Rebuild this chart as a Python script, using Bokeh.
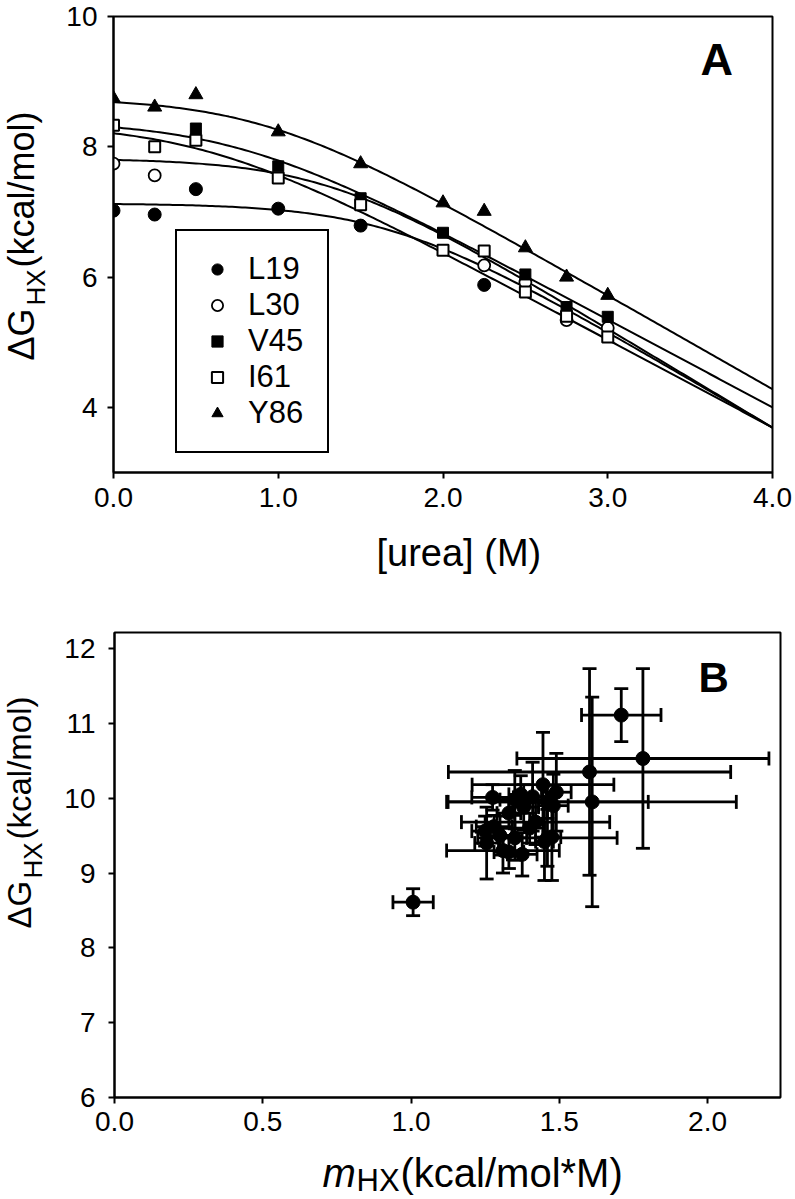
import numpy as np
from bokeh.plotting import figure
from bokeh.models import (ColumnDataSource, FixedTicker, Legend, LegendItem, Label,
                          Whisker, TeeHead, Range1d, Spacer)
from bokeh.layouts import column, row
from bokeh.core.properties import value
from bokeh.embed import file_html
from bokeh.resources import INLINE

FONT = "Liberation Sans"

# ---------------- Panel A data ----------------
residues = ["L19", "L30", "V45", "I61", "Y86"]
urea_L19 = [0.0, 0.25, 0.5, 1.0, 1.5, 2.25]
dG_L19 = [7.02, 6.96, 7.35, 7.05, 6.79, 5.88]
urea_L30 = [0.0, 0.25, 2.25, 2.5, 2.75, 3.0]
dG_L30 = [7.74, 7.56, 6.18, 5.92, 5.34, 5.22]
urea_V45 = [0.5, 1.0, 1.5, 2.0, 2.5, 2.75, 3.0]
dG_V45 = [8.28, 7.70, 7.21, 6.68, 6.04, 5.54, 5.39]
urea_I61 = [0.0, 0.25, 0.5, 1.0, 1.5, 2.0, 2.25, 2.5, 2.75, 3.0]
dG_I61 = [8.33, 8.00, 8.10, 7.52, 7.11, 6.41, 6.40, 5.77, 5.40, 5.08]
urea_Y86 = [0.0, 0.25, 0.5, 1.0, 1.5, 2.0, 2.25, 2.5, 2.75, 3.0]
dG_Y86 = [8.74, 8.61, 8.80, 8.23, 7.74, 7.14, 7.01, 6.45, 6.00, 5.72]

# fitted model parameters (local + global exchange), one per residue
fit_dG_loc = [7.13, 7.82, 8.40, 8.36, 8.75]
fit_dG_glob = [9.61, 9.77, 9.40, 9.09, 10.04]
fit_m = [1.48, 1.52, 1.35, 1.35, 1.44]
RT = 0.593

A_x_ticks = [0, 1, 2, 3, 4]
A_x_labels = ["0.0", "1.0", "2.0", "3.0", "4.0"]
A_y_ticks = [4, 6, 8, 10]
A_y_labels = ["4", "6", "8", "10"]

# ---------------- Panel B data ----------------
m_HX = [1.007, 1.709, 1.782, 1.602, 1.611,
        1.445, 1.49, 1.41, 1.35, 1.275, 1.46, 1.38, 1.48, 1.42, 1.25, 1.30,
        1.35, 1.46, 1.31, 1.255, 1.33, 1.375, 1.45, 1.475, 1.40, 1.33, 1.37, 1.28]
dG_HX = [8.61, 11.11, 10.53, 10.35, 9.95,
         10.18, 10.08, 10.02, 9.98, 10.01, 9.95, 9.88, 9.90, 9.68, 9.56, 9.50,
         9.47, 9.47, 9.30, 9.40, 9.28, 9.25, 9.42, 9.48, 9.60, 9.80, 10.05, 9.62]
m_err = [0.068, 0.134, 0.425, 0.476, 0.486,
         0.239, 0.05, 0.06, 0.05, 0.07, 0.34, 0.05, 0.05, 0.25, 0.045, 0.05,
         0.04, 0.235, 0.19, 0.04, 0.05, 0.05, 0.03, 0.03, 0.05, 0.04, 0.04, 0.06]
dG_err = [0.18, 0.354, 1.20, 1.38, 1.40,
          0.70, 0.52, 0.46, 0.39, 0.17, 0.22, 0.30, 0.42, 0.30, 0.20, 0.26,
          0.30, 0.38, 0.30, 0.48, 0.22, 0.29, 0.52, 0.58, 0.20, 0.20, 0.25, 0.15]

B_x_ticks = [0.0, 0.5, 1.0, 1.5, 2.0]
B_x_labels = ["0.0", "0.5", "1.0", "1.5", "2.0"]
B_y_ticks = [6, 7, 8, 9, 10, 11, 12]
B_y_labels = ["6", "7", "8", "9", "10", "11", "12"]


def style(p, xt, xl, yt, yl, fs, xstand, ystand):
    p.xgrid.visible = False
    p.ygrid.visible = False
    p.outline_line_color = "black"
    p.outline_line_width = 2
    p.outline_line_alpha = 1
    p.background_fill_color = "white"
    p.border_fill_color = "white"
    p.xaxis.ticker = FixedTicker(ticks=xt)
    p.yaxis.ticker = FixedTicker(ticks=yt)
    p.xaxis.major_label_overrides = {t: l for t, l in zip(xt, xl)}
    p.yaxis.major_label_overrides = {t: l for t, l in zip(yt, yl)}
    for ax in (p.xaxis[0], p.yaxis[0]):
        ax.axis_line_width = 2
        ax.axis_line_color = "black"
        ax.major_tick_line_width = 2
        ax.major_tick_line_color = "black"
        ax.major_tick_out = 6
        ax.major_tick_in = 0
        ax.minor_tick_line_color = None
        ax.major_label_text_font = FONT
        ax.major_label_text_font_size = fs
        ax.major_label_text_color = "black"
    p.xaxis[0].major_label_standoff = xstand
    p.yaxis[0].major_label_standoff = ystand


def text_panel(w, h, xr, yr, bl=0, br=0, bt=0, bb=0):
    """Blank figure used only to hold axis-title text; ranges are page pixels (y down)."""
    t = figure(width=w, height=h, x_range=Range1d(*xr), y_range=Range1d(*yr),
               output_backend="svg", toolbar_location=None,
               x_axis_location=None, y_axis_location=None,
               min_border=0, min_border_left=bl, min_border_right=br,
               min_border_top=bt, min_border_bottom=bb)
    t.outline_line_color = None
    t.xgrid.visible = False
    t.ygrid.visible = False
    t.background_fill_color = "white"
    t.border_fill_color = "white"
    return t


def put(t, x, y, txt, size, angle=0.0, style="normal"):
    t.text(x=[x], y=[y], text=[txt], angle=angle,
           text_font=value(FONT), text_font_size=value(size),
           text_font_style=style, text_color="black",
           text_align="left", text_baseline="middle")


# ================= Panel A =================
pA = figure(width=745, height=530, x_range=Range1d(0, 4), y_range=Range1d(3, 10),
            output_backend="svg", toolbar_location=None,
            min_border_left=63, min_border_right=23, min_border_top=16, min_border_bottom=58)
style(pA, A_x_ticks, A_x_labels, A_y_ticks, A_y_labels, "28px", 9, 10)

xs = np.linspace(0, 4, 201)
for a, b, m in zip(fit_dG_loc, fit_dG_glob, fit_m):
    ys = -RT * np.log(np.exp(-a / RT) + np.exp(-(b - m * xs) / RT))
    pA.line(xs, ys, line_color="black", line_width=2)

r1 = pA.scatter(urea_L19, dG_L19, marker="circle", size=13, fill_color="black", line_color="black")
r2 = pA.scatter(urea_L30, dG_L30, marker="circle", size=12, fill_color="white", line_color="black", line_width=1.8)
r3 = pA.scatter(urea_V45, dG_V45, marker="square", size=11, fill_color="black", line_color="black")
r4 = pA.scatter(urea_I61, dG_I61, marker="square", size=11, fill_color="white", line_color="black", line_width=2)
r5 = pA.scatter(urea_Y86, dG_Y86, marker="triangle", size=14, fill_color="black", line_color="black")

legend = Legend(items=[LegendItem(label=n, renderers=[r]) for n, r in zip(residues, [r1, r2, r3, r4, r5])],
                location=(62, 19), label_text_font=FONT, label_text_font_size="31px",
                label_text_color="black",
                label_height=36, glyph_height=28, glyph_width=40, label_standoff=11,
                label_width=59, padding=20, spacing=0, margin=0,
                border_line_color="black", border_line_width=2, border_line_alpha=1,
                background_fill_color="white", background_fill_alpha=1)
pA.add_layout(legend)
pA.add_layout(Label(x=587, y=413, x_units="screen", y_units="screen", text="A",
                    text_font=FONT, text_font_size="45px", text_font_style="bold",
                    text_color="black", text_baseline="middle"))

# y-title column: frame matches pA frame (page rows 16..472)
yA = text_panel(50, 530, (0, 50), (472, 16), bt=16, bb=58)
put(yA, 21, 360, "ΔG", "36px", angle=np.pi / 2)
put(yA, 35, 305, "HX", "26px", angle=np.pi / 2)
put(yA, 21, 267, "(kcal/mol)", "36px", angle=np.pi / 2)

# x-title strip: frame matches pA frame horizontally (page cols 113..772), rows 530..580
xA = text_panel(745, 50, (113, 772), (580, 530), bl=63, br=23)
put(xA, 376, 552, "[urea] (M)", "38px")

# ================= Panel B =================
pB = figure(width=745, height=570, x_range=Range1d(0, 2.246), y_range=Range1d(6, 12.214),
            output_backend="svg", toolbar_location=None,
            min_border_left=64, min_border_right=15, min_border_top=52, min_border_bottom=53)
style(pB, B_x_ticks, B_x_labels, B_y_ticks, B_y_labels, "28px", 8, 13)

mh = np.array(m_HX)
dg = np.array(dG_HX)
me = np.array(m_err)
de = np.array(dG_err)
srcB = ColumnDataSource(dict(m=mh, dg=dg, m_lo=mh - me, m_hi=mh + me, dg_lo=dg - de, dg_hi=dg + de))


def tee():
    return TeeHead(size=14, line_width=2.8, line_color="black")


pB.add_layout(Whisker(source=srcB, base="m", lower="dg_lo", upper="dg_hi", dimension="height",
                      line_width=2.8, line_color="black", upper_head=tee(), lower_head=tee()))
pB.add_layout(Whisker(source=srcB, base="dg", lower="m_lo", upper="m_hi", dimension="width",
                      line_width=2.8, line_color="black", upper_head=tee(), lower_head=tee()))
pB.scatter("m", "dg", source=srcB, marker="circle", size=14, fill_color="black", line_color="black")
pB.add_layout(Label(x=584, y=420, x_units="screen", y_units="screen", text="B",
                    text_font=FONT, text_font_size="42px", text_font_style="bold",
                    text_color="black", text_baseline="middle"))

# y-title column: frame matches pB frame (page rows 632..1097)
yB = text_panel(50, 570, (0, 50), (1097, 632), bt=52, bb=53)
put(yB, 19, 928, "ΔG", "33px", angle=np.pi / 2)
put(yB, 32, 878, "HX", "26px", angle=np.pi / 2)
put(yB, 19, 839, "(kcal/mol)", "33px", angle=np.pi / 2)

# x-title strip: frame matches pB frame horizontally (page cols 114..780), rows 1150..1198
xB = text_panel(745, 48, (114, 780), (1198, 1150), bl=64, br=15)
put(xB, 322, 1172, "m", "40px", style="italic")
put(xB, 356, 1180, "HX", "31px")
put(xB, 400, 1172, "(kcal/mol*M)", "40px")

layout = column(row(yA, pA), row(Spacer(width=50, height=50), xA),
                row(yB, pB), row(Spacer(width=50, height=48), xB))
open("out.html", "w").write(file_html(layout, INLINE))
